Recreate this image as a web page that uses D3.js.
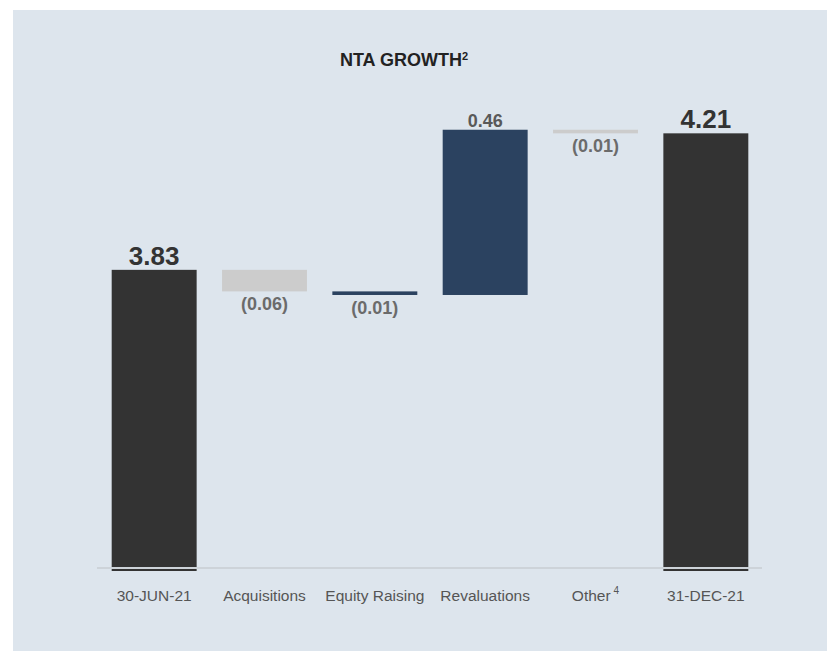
<!DOCTYPE html>
<html>
<head>
<meta charset="utf-8">
<script src="https://cdn.jsdelivr.net/npm/d3@7"></script>
<style>
  body { margin: 0; background: #ffffff; }
  svg { display: block; font-family: "Liberation Sans", Arial, sans-serif; }
</style>
</head>
<body>
<script>
'use strict';
// chart data
const categories = ["30-JUN-21", "Acquisitions", "Equity Raising", "Revaluations", "Other", "31-DEC-21"];
const values = [3.83, -0.06, -0.01, 0.46, -0.01, 4.21];
const isTotal = [true, false, false, false, false, true];
const valueLabels = ["3.83", "(0.06)", "(0.01)", "0.46", "(0.01)", "4.21"];
const yDomain = [3.0, 4.3];

(function () {
  const W = 828, H = 652;
  const barColors = ["#333333", "#cccccc", "#2b4260", "#2b4260", "#cccccc", "#333333"];

  const svg = d3.select("body").append("svg")
    .attr("width", W)
    .attr("height", H);

  // panel background
  svg.append("rect")
    .attr("x", 13).attr("y", 10)
    .attr("width", 814).attr("height", 641)
    .attr("fill", "#dde5ed");

  // title
  let title = svg.append("text")
    .attr("x", 404)
    .attr("y", 66)
    .attr("text-anchor", "middle")
    .style("font-size", "18px")
    .style("font-weight", "bold")
    .attr("fill", "#222222")
    .text("NTA GROWTH");
  title.append("tspan")
    .attr("dy", -6)
    .style("font-size", "11px")
    .text("2");

  let x = d3.scaleBand()
    .domain(categories)
    .range([99, 761])
    .paddingInner(0.23)
    .paddingOuter(0.115);

  let y = d3.scaleLinear()
    .domain(yDomain)
    .range([568, 101]);

  let color = d3.scaleOrdinal().domain(categories).range(barColors);

  // waterfall start / end values
  let cum = 0;
  let rows = categories.map((c, i) => {
    let row;
    if (isTotal[i]) {
      row = { cat: c, lo: yDomain[0], hi: values[i], v: values[i], total: true, label: valueLabels[i] };
      cum = values[i];
    } else {
      let next = cum + values[i];
      row = { cat: c, lo: Math.min(cum, next), hi: Math.max(cum, next), v: values[i], total: false, label: valueLabels[i] };
      cum = next;
    }
    return row;
  });

  svg.selectAll("rect.bar")
    .data(rows)
    .enter()
    .append("rect")
    .attr("class", "bar")
    .attr("x", (d) => x(d.cat))
    .attr("width", x.bandwidth())
    .attr("y", (d) => y(d.hi))
    .attr("height", (d) => (y(d.lo) - y(d.hi)) + (d.total ? 3 : 0))
    .attr("fill", (d) => color(d.cat));

  // axis
  let xAxis = d3.axisBottom(x).tickSize(0).tickPadding(22);
  let gx = svg.append("g")
    .attr("transform", "translate(0," + y(yDomain[0]) + ")")
    .call(xAxis);
  gx.select(".domain")
    .attr("stroke", "#cdd3d9")
    .attr("stroke-width", 2)
    .attr("d", "M97,0H762");
  gx.selectAll(".tick text")
    .style("font-size", "15.5px")
    .style("font-family", "'Liberation Sans', Arial, sans-serif")
    .attr("fill", "#555555");
  gx.selectAll(".tick text")
    .filter((d) => d === "Other")
    .append("tspan")
    .attr("dx", 3)
    .attr("dy", -7)
    .style("font-size", "10px")
    .text("4");

  // value labels
  svg.selectAll("text.val")
    .data(rows)
    .enter()
    .append("text")
    .attr("class", "val")
    .attr("x", (d) => x(d.cat) + x.bandwidth() / 2)
    .attr("y", (d) => {
      if (d.total) return y(d.hi) - 5;
      if (d.v >= 0) return y(d.hi) - 3;
      return y(d.lo) + 19;
    })
    .attr("text-anchor", "middle")
    .style("font-weight", "bold")
    .style("font-size", (d) => d.total ? "26px" : "18px")
    .attr("fill", (d) => d.total ? "#333333" : (d.v >= 0 ? "#595959" : "#6b6b6b"))
    .text((d) => d.label);
})();
</script>
</body>
</html>
